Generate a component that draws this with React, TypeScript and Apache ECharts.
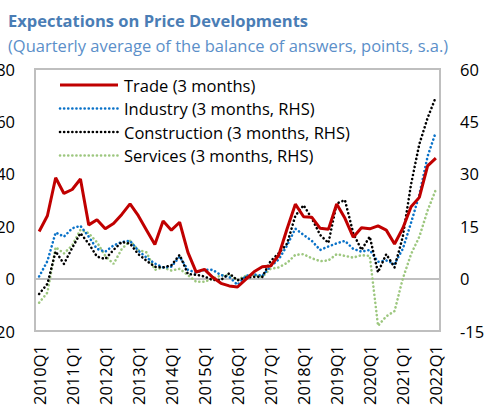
import React, { useEffect, useRef } from "react";
import * as echarts from "echarts";

const years = [2010, 2011, 2012, 2013, 2014, 2015, 2016, 2017, 2018, 2019, 2020, 2021, 2022];
const categories: string[] = [];
years.forEach((y) => {
  for (let q = 1; q <= 4; q++) {
    if (y === 2022 && q > 1) break;
    categories.push(`${y}Q${q}`);
  }
});

const trade = [
  18, 24, 38.5, 32.5, 34, 38, 20.5, 22.5, 19, 21, 24.5, 28.5, 24, 18.5, 13, 22, 18.5, 21.5, 10, 2.5,
  3.5, 0.5, -1.8, -2.8, -3.2, -0.3, 2.6, 4.5, 4.8, 9, 19, 28.4, 23.6, 23.4, 19.2, 18.8, 28.5, 23, 15.8,
  19.4, 19, 20.1, 18.5, 13.2, 19.2, 27.4, 31, 43, 46,
];
const industry = [
  0.6, 5, 13.2, 12, 14.4, 15.1, 12, 8.5, 7.7, 9.5, 10.5, 10.8, 8, 6, 4.3, 3.2, 3.4, 6.3, 2.5, 1.7,
  2.5, 2.5, 1, 0.5, -1.8, 0.8, 1.2, 0.8, 3.5, 5.5, 9.5, 14.3, 12.5, 10.8, 8.2, 9.2, 10.1, 10.8, 8.5,
  7.7, 8.2, 4.8, 5.2, 4.2, 8.5, 16, 24, 35, 42,
];
const construction = [
  -4.4, -1.5, 7.8, 4.2, 8.8, 13, 10, 6.3, 5.6, 8.2, 10.5, 10, 7, 5.1, 3.4, 3.2, 3.8, 6.8, 1.3, 1.1,
  0.6, -0.4, -0.4, 1.5, -0.5, 0.3, 0.5, 0.5, 5, 7.3, 10, 18, 21, 17.2, 12.5, 10.2, 21.5, 22.5, 13,
  8.2, 12, 1.8, 7, 3.2, 12, 27, 38.5, 46, 52,
];
const services = [
  -6.9, -4, 9, 7.2, 9.5, 14, 13, 10.4, 6.5, 4.2, 8.5, 10.8, 8.2, 7.5, 2.5, 3.2, 2.3, 2.8, 1, -0.9,
  -0.9, 0, 0.9, 1, -0.4, 0.8, 1, 0.5, 2.8, 3.2, 4.5, 6.8, 7, 5.8, 5, 5.2, 7, 6.5, 6, 6.7, 6.5, -13.5,
  -10.8, -9.3, 0, 7, 12, 19.5, 25.5,
];

const seriesDefs = [
  { name: "Trade (3 months)", color: "#C00000", axis: 0, data: trade, dotted: false },
  { name: "Industry (3 months, RHS)", color: "#0A72C8", axis: 1, data: industry, dotted: true },
  { name: "Construction (3 months, RHS)", color: "#000000", axis: 1, data: construction, dotted: true },
  { name: "Services (3 months, RHS)", color: "#9DC77F", axis: 1, data: services, dotted: true },
];

const FONT = "'Open Sans', 'Noto Sans', sans-serif";
const FS = 16.5;
const DOT = [0.1, 4];

export default function App() {
  const ref = useRef<HTMLDivElement>(null);
  useEffect(() => {
    document.body.style.margin = "0";
    if (!ref.current) return;
    const chart = echarts.init(ref.current, undefined, { renderer: "svg" });

    const legendGraphics: any[] = [];
    seriesDefs.forEach((s, i) => {
      const y = 85 + i * 23.5;
      legendGraphics.push({
        type: "line",
        shape: { x1: 60, y1: y, x2: 118, y2: y },
        style: s.dotted
          ? { stroke: s.color, lineWidth: 2.6, lineDash: DOT, lineCap: "round" }
          : { stroke: s.color, lineWidth: 3 },
        z: 10,
      });
      legendGraphics.push({
        type: "text",
        x: 124,
        y,
        style: {
          text: s.name,
          font: `${FS}px ${FONT}`,
          fill: "#000",
          textVerticalAlign: "middle",
        },
        z: 10,
      });
    });

    const zorder = [5, 3, 4, 2];
    chart.setOption({
      animation: false,
      textStyle: { fontFamily: FONT },
      graphic: [
        {
          type: "text",
          x: 8,
          y: 20,
          style: {
            text: "Expectations on Price Developments",
            font: `bold ${FS}px ${FONT}`,
            fill: "#4A7DB5",
            textVerticalAlign: "middle",
          },
        },
        {
          type: "text",
          x: 8,
          y: 45,
          style: {
            text: "(Quarterly average of the balance of answers, points, s.a.)",
            font: `${FS}px ${FONT}`,
            fill: "#5B8FC9",
            textVerticalAlign: "middle",
          },
        },
        ...legendGraphics,
      ],
      grid: {
        left: 35,
        right: 45,
        top: 69,
        bottom: 74,
        show: true,
        borderColor: "#BFBFBF",
        borderWidth: 2,
        containLabel: false,
        outerBoundsMode: "none",
      },
      xAxis: {
        type: "category",
        data: categories,
        boundaryGap: true,
        axisLine: { show: false },
        axisTick: { show: false },
        axisLabel: {
          interval: 3,
          rotate: 90,
          margin: 14,
          fontSize: FS,
          color: "#000",
          fontFamily: FONT,
        },
      },
      yAxis: [
        {
          type: "value",
          min: -20,
          max: 80,
          interval: 20,
          splitLine: { show: false },
          axisLine: { show: false },
          axisTick: { show: false },
          axisLabel: { margin: 20, fontSize: FS, color: "#000", fontFamily: FONT },
        },
        {
          type: "value",
          min: -15,
          max: 60,
          interval: 15,
          splitLine: { show: false },
          axisLine: { show: false },
          axisTick: { show: false },
          axisLabel: { margin: 20, fontSize: FS, color: "#000", fontFamily: FONT },
        },
      ],
      series: seriesDefs.map((s, i) => ({
        name: s.name,
        type: "line",
        yAxisIndex: s.axis,
        data: s.data,
        symbol: "none",
        lineStyle: s.dotted
          ? { color: s.color, width: 2.6, type: DOT, cap: "round" }
          : { color: s.color, width: 3 },
        itemStyle: { color: s.color },
        z: zorder[i],
        ...(i === 0
          ? {
              markLine: {
                silent: true,
                symbol: "none",
                label: { show: false },
                lineStyle: { color: "#BFBFBF", width: 2, type: "solid" },
                data: [{ yAxis: 0 }],
                z: 1,
              },
            }
          : {}),
      })),
    });
    return () => chart.dispose();
  }, []);
  return <div ref={ref} style={{ width: 485, height: 405 }} />;
}
